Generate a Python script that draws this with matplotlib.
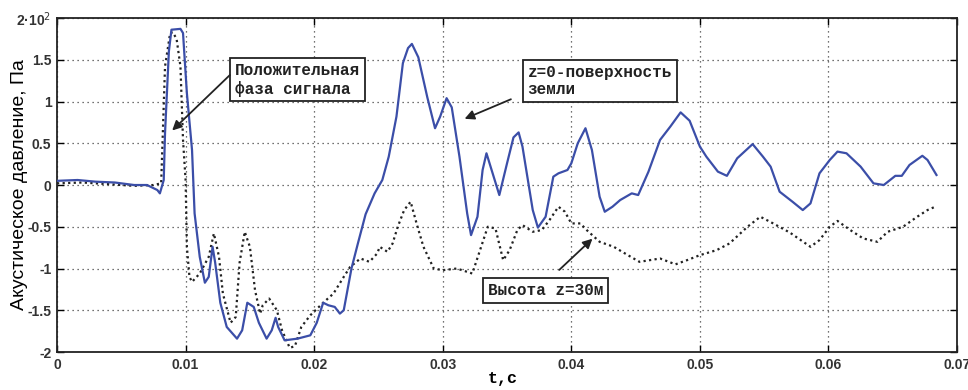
import matplotlib
matplotlib.use("Agg")
import matplotlib.pyplot as plt

# z=0 - ground surface (blue, solid)
t_ground = [0.0000, 0.0016, 0.0030, 0.0045, 0.0060, 0.0070, 0.0078, 0.0080, 0.0083, 0.0084,
            0.0087, 0.0089, 0.0096, 0.0098, 0.0101, 0.0105, 0.0107, 0.0111, 0.0115, 0.0118,
            0.0121, 0.0123, 0.0127, 0.0132, 0.0140, 0.0144, 0.0148, 0.0153, 0.0157, 0.0163,
            0.0167, 0.0170, 0.0172, 0.0177, 0.0187, 0.0197, 0.0202, 0.0207, 0.0211, 0.0216,
            0.0220, 0.0223, 0.0229, 0.0234, 0.0240, 0.0247, 0.0253, 0.0258, 0.0264, 0.0269,
            0.0273, 0.0276, 0.0281, 0.0288, 0.0294, 0.0298, 0.0303, 0.0307, 0.0313, 0.0319,
            0.0322, 0.0327, 0.0331, 0.0334, 0.0338, 0.0344, 0.0350, 0.0355, 0.0359, 0.0362,
            0.0370, 0.0374, 0.0380, 0.0386, 0.0390, 0.0397, 0.0400, 0.0405, 0.0411, 0.0416,
            0.0422, 0.0426, 0.0432, 0.0438, 0.0447, 0.0452, 0.0460, 0.0469, 0.0477, 0.0485,
            0.0492, 0.0500, 0.0505, 0.0514, 0.0521, 0.0529, 0.0541, 0.0549, 0.0555, 0.0562,
            0.0572, 0.0580, 0.0586, 0.0593, 0.0601, 0.0607, 0.0614, 0.0625, 0.0635, 0.0643,
            0.0652, 0.0657, 0.0663, 0.0673, 0.0677, 0.0684]
p_ground = [0.05, 0.06, 0.04, 0.03, 0.00, 0.00, -0.06, -0.10, 0.06, 0.62,
            1.60, 1.86, 1.87, 1.82, 1.10, 0.42, -0.34, -0.86, -1.17, -1.10,
            -0.74, -0.93, -1.41, -1.70, -1.84, -1.74, -1.41, -1.46, -1.65, -1.84,
            -1.74, -1.59, -1.70, -1.86, -1.84, -1.80, -1.65, -1.41, -1.44, -1.46,
            -1.54, -1.50, -1.00, -0.70, -0.35, -0.10, 0.06, 0.34, 0.82, 1.46,
            1.64, 1.69, 1.53, 1.05, 0.68, 0.82, 1.04, 0.93, 0.34, -0.34,
            -0.60, -0.38, 0.18, 0.38, 0.18, -0.12, 0.26, 0.57, 0.63, 0.46,
            -0.30, -0.51, -0.38, 0.10, 0.14, 0.18, 0.26, 0.50, 0.68, 0.42,
            -0.14, -0.32, -0.26, -0.18, -0.10, -0.12, 0.16, 0.54, 0.70, 0.87,
            0.77, 0.46, 0.34, 0.16, 0.11, 0.32, 0.49, 0.34, 0.22, -0.08,
            -0.20, -0.30, -0.22, 0.14, 0.30, 0.40, 0.38, 0.22, 0.02, 0.00,
            0.11, 0.11, 0.24, 0.35, 0.30, 0.12]

# z=30 m height (black, dotted)
t_30m = [0.0000, 0.0020, 0.0040, 0.0060, 0.0075, 0.0081, 0.0084, 0.0088, 0.0090, 0.0093,
         0.0096, 0.0098, 0.0100, 0.0101, 0.0103, 0.0105, 0.0111, 0.0118, 0.0122, 0.0126,
         0.0129, 0.0135, 0.0139, 0.0142, 0.0146, 0.0150, 0.0154, 0.0158, 0.0160, 0.0165,
         0.0171, 0.0175, 0.0181, 0.0185, 0.0190, 0.0197, 0.0207, 0.0215, 0.0223, 0.0228,
         0.0236, 0.0243, 0.0249, 0.0251, 0.0257, 0.0261, 0.0265, 0.0270, 0.0275, 0.0280,
         0.0285, 0.0293, 0.0300, 0.0311, 0.0323, 0.0329, 0.0335, 0.0341, 0.0347, 0.0352,
         0.0358, 0.0362, 0.0370, 0.0377, 0.0383, 0.0390, 0.0395, 0.0400, 0.0407, 0.0412,
         0.0422, 0.0433, 0.0444, 0.0453, 0.0461, 0.0469, 0.0481, 0.0490, 0.0500, 0.0513,
         0.0523, 0.0537, 0.0547, 0.0557, 0.0570, 0.0586, 0.0593, 0.0601, 0.0607, 0.0617,
         0.0627, 0.0638, 0.0646, 0.0658, 0.0669, 0.0677, 0.0683]
p_30m = [0.02, 0.03, 0.01, -0.01, 0.00, 0.02, 1.42, 1.82, 1.83, 1.75,
         1.42, 0.54, 0.06, -0.74, -1.10, -1.16, -1.06, -0.86, -0.58, -0.86,
         -1.30, -1.65, -1.58, -0.93, -0.56, -0.74, -1.26, -1.54, -1.44, -1.36,
         -1.50, -1.74, -1.95, -1.93, -1.70, -1.56, -1.41, -1.30, -1.10, -0.98,
         -0.88, -0.92, -0.82, -0.74, -0.80, -0.70, -0.50, -0.30, -0.20, -0.48,
         -0.74, -1.00, -1.02, -1.00, -1.06, -0.78, -0.50, -0.52, -0.90, -0.78,
         -0.54, -0.48, -0.56, -0.54, -0.42, -0.26, -0.32, -0.46, -0.46, -0.54,
         -0.68, -0.74, -0.84, -0.92, -0.90, -0.88, -0.95, -0.90, -0.84, -0.78,
         -0.70, -0.50, -0.38, -0.46, -0.57, -0.74, -0.66, -0.50, -0.43, -0.54,
         -0.64, -0.68, -0.56, -0.50, -0.38, -0.30, -0.26]

x_ticks = [0, 0.01, 0.02, 0.03, 0.04, 0.05, 0.06, 0.07]
x_labels = ['0', '0.01', '0.02', '0.03', '0.04', '0.05', '0.06', '0.07']
y_ticks = [-2, -1.5, -1, -0.5, 0, 0.5, 1, 1.5, 2]
y_labels = ['-2', '-1.5', '-1', '-0.5', '0', '0.5', '1', '1.5', '2·10$^2$']

fig = plt.figure(figsize=(9.68, 3.9), dpi=100)
ax = fig.add_axes([0.0589, 0.0974, 0.9298, 0.8564])

ax.plot(t_ground, p_ground, color='#3b4ea8', linewidth=1.6, zorder=3)
ax.plot(t_30m, p_30m, color='#222222', linestyle=(0, (1, 1.5)), linewidth=1.6, zorder=2)

ax.set_xlim(0, 0.07)
ax.set_ylim(-2, 2)
ax.set_xticks(x_ticks)
ax.set_xticklabels(x_labels)
ax.set_yticks(y_ticks)
ax.set_yticklabels(y_labels)
ax.tick_params(direction='in', top=True, right=True, length=5, width=1,
               labelsize=10, labelcolor='#333333', pad=4)
for lab in ax.get_xticklabels() + ax.get_yticklabels():
    lab.set_fontweight('bold')
    lab.set_family('Liberation Sans')
ax.grid(True, color='#444444', linestyle=(0, (1, 3)), linewidth=0.9)
for s in ax.spines.values():
    s.set_linewidth(1.3)
    s.set_color('#222222')

ax.set_xlabel('t,с', family='Liberation Mono', fontsize=12, fontweight='bold')
ax.xaxis.set_label_coords(0.495, -0.058)
ax.set_ylabel('Акустическое давление, Па', family='Liberation Sans', fontsize=14)
ax.yaxis.set_label_coords(-0.042, 0.5)
ax.yaxis.label.set_va('center')

box = dict(boxstyle='square,pad=0.3', facecolor='white', edgecolor='#222222', linewidth=1.3)
txt = dict(family='Liberation Mono', fontsize=11.5, fontweight='bold', color='#222222',
           ha='left', va='center', bbox=box, zorder=5, linespacing=1.2)
arrow = dict(arrowstyle='-|>', color='#222222', linewidth=1.3, mutation_scale=14)

ax.text(0.01385, 1.26, 'Положительная\nфаза сигнала', **txt)
ax.annotate('', xy=(0.0088, 0.63), xytext=(0.0136, 1.34), arrowprops=arrow, zorder=5)

ax.text(0.0366, 1.245, 'z=0-поверхность\nземли', **txt)
ax.annotate('', xy=(0.0315, 0.78), xytext=(0.0355, 1.04), arrowprops=arrow, zorder=5)

ax.text(0.0335, -1.26, 'Высота z=30м', **txt)
ax.annotate('', xy=(0.0418, -0.62), xytext=(0.0389, -1.04), arrowprops=arrow, zorder=5)

fig.savefig('out.png', dpi=100)
